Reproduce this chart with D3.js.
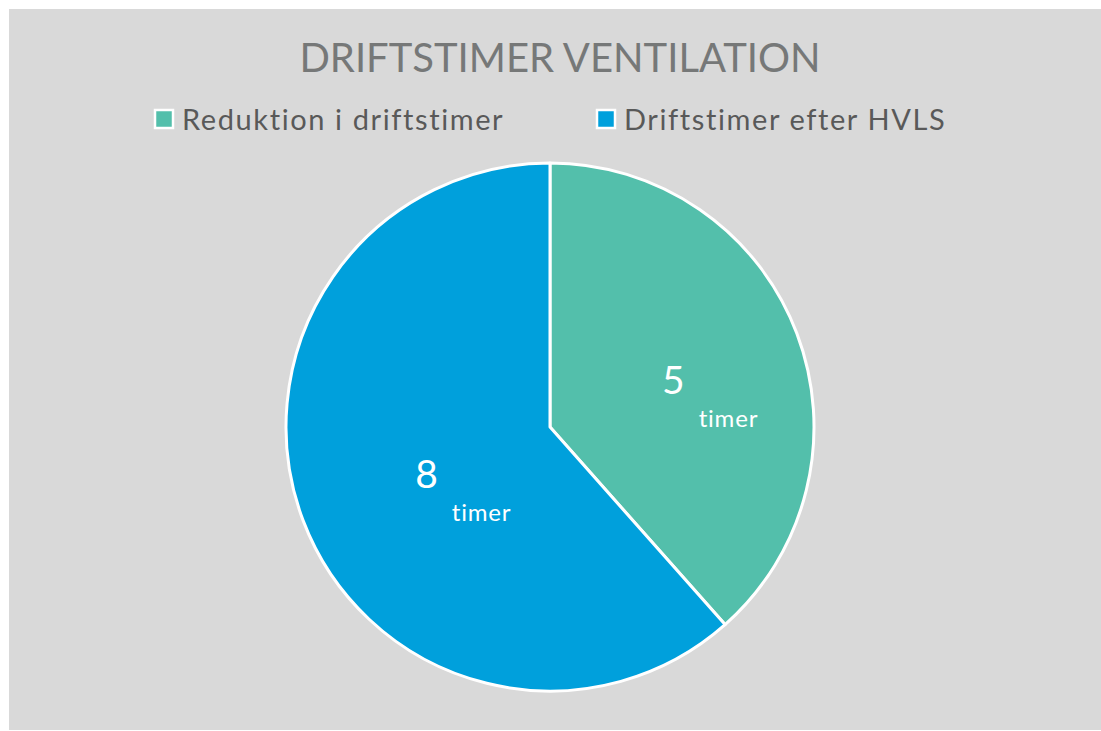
<!DOCTYPE html>
<html>
<head>
<meta charset="utf-8">
<script src="https://cdn.jsdelivr.net/npm/d3@7"></script>
<style>
  html, body { margin: 0; padding: 0; background: #fff; }
  svg { display: block; }
  text { font-family: "Lato", "Noto Sans", sans-serif; }
</style>
</head>
<body>
<div id="chart"></div>
<script>
var title = "DRIFTSTIMER VENTILATION"
var categories = ["Reduktion i driftstimer", "Driftstimer efter HVLS"]
var values = [5, 8]
var unit = "timer"
var colors = ["#53bfab", "#00a0dc"]

var width = 1101,
    height = 731,
    cx = 550,
    cy = 427,
    r = 264

var svg = d3.select("#chart").append("svg")
    .attr("width", width)
    .attr("height", height)

// chart area
svg.append("rect")
    .attr("x", 9)
    .attr("y", 9)
    .attr("width", width - 9)
    .attr("height", height - 10)
    .attr("fill", "#d9d9d9")

svg.append("text")
    .attr("x", 560)
    .attr("y", 72)
    .attr("text-anchor", "middle")
    .attr("font-size", 40)
    .attr("fill", "#767878")
    .text(title)

// legend
var legendX = [153, 595]
var legend = svg.selectAll("g.legend")
    .data(categories)
  .enter().append("g")
    .attr("class", "legend")
    .attr("transform", function(d, i) { return "translate(" + legendX[i] + ",108)" })

legend.append("rect")
    .attr("x", 2)
    .attr("y", 2)
    .attr("width", 18)
    .attr("height", 18)
    .attr("fill", function(d, i) { return colors[i] })
    .attr("stroke", "#fff")
    .attr("stroke-width", 2.5)

legend.append("text")
    .attr("x", 29)
    .attr("y", 22)
    .attr("font-size", 29)
    .attr("letter-spacing", 1.6)
    .attr("fill", "#595959")
    .text(function(d) { return d })

// pie
var pie = d3.pie().sort(null)
var arcs = pie(values)

var arc = d3.arc()
    .innerRadius(0)
    .outerRadius(r)

var g = svg.append("g")
    .attr("transform", "translate(" + cx + "," + cy + ")")

g.selectAll("path.slice")
    .data(arcs)
  .enter().append("path")
    .attr("class", "slice")
    .attr("d", arc)
    .attr("fill", function(d, i) { return colors[i] })
    .attr("stroke", "#fff")
    .attr("stroke-width", 3)
    .attr("stroke-linejoin", "round")

var labels = g.selectAll("g.label")
    .data(arcs)
  .enter().append("g")
    .attr("class", "label")
    .attr("transform", function(d) { return "translate(" + arc.centroid(d) + ")" })

labels.append("text")
    .attr("text-anchor", "middle")
    .attr("y", 14)
    .attr("font-size", 39)
    .attr("fill", "#fff")
    .text(function(d) { return d.data })

labels.append("text")
    .attr("text-anchor", "middle")
    .attr("x", 55)
    .attr("y", 47)
    .attr("font-size", 24)
    .attr("letter-spacing", 0.8)
    .attr("fill", "#fff")
    .text(unit)
</script>
</body>
</html>
